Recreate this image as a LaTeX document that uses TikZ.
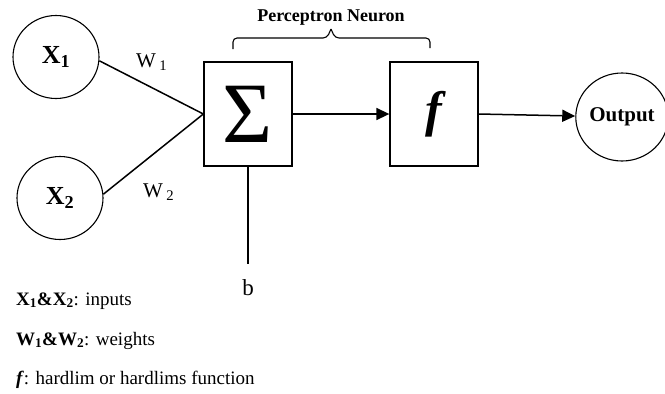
\documentclass[tikz,border=0pt]{standalone}
\usepackage{fontspec}
\setmainfont{Liberation Serif}
\usetikzlibrary{shapes.geometric,arrows.meta}

\begin{document}
\begin{tikzpicture}[x=1pt, y=-1pt, line width=1.5pt,
    inputnode/.style={ellipse, draw, line width=1.1pt, inner sep=0pt,
                      minimum width=86pt, minimum height=83pt},
    neuronbox/.style={rectangle, draw, line width=1.3pt, inner sep=0pt,
                      minimum width=88pt, minimum height=104pt},
    flow/.style={-{Triangle[length=13pt,width=12pt]}},
    wlabel/.style={anchor=base west, font=\fontsize{21}{23}\selectfont},
    legendtext/.style={anchor=base west, font=\fontsize{19}{22}\selectfont}]

  \useasboundingbox (0,0) rectangle (665,394);

  \node[inputnode] (x1) at (56,57)
    {\fontsize{26}{28}\selectfont\bfseries X\textsubscript{1}};
  \node[inputnode] (x2) at (60,198)
    {\fontsize{26}{28}\selectfont\bfseries X\textsubscript{2}};

  \node[neuronbox] (sum) at (248,114)
    {\fontsize{86}{86}\selectfont Σ};
  \node[neuronbox] (fn) at (434,114)
    {\fontsize{50}{50}\selectfont\bfseries\itshape f};
  \node[inputnode, minimum width=92pt, minimum height=88pt] (out) at (622,117)
    {\fontsize{21}{23}\selectfont\bfseries Output};

  \draw (x1.-5) -- (sum.west);
  \draw (x2.5) -- (sum.west);
  \node[wlabel] (w1) at (132,67) {W\,\textsubscript{1}};
  \node[wlabel] (w2) at (139,197) {W\,\textsubscript{2}};

  \draw[flow] (sum.east) -- (fn.west);
  \draw[flow] (fn.east) -- (out);

  \coordinate (bend) at (248,264);
  \draw (sum.south) -- (bend);
  \node[font=\fontsize{23}{25}\selectfont] (bias) at (248,288) {b};

  % brace over the two boxes
  \coordinate (bl) at (233,49);
  \coordinate (br) at (430,48);
  \draw[line width=1.1pt, rounded corners=4pt]
    (bl) -- (233,38) -- (327,38) -- (331,29);
  \draw[line width=1.1pt, rounded corners=4pt]
    (331,29) -- (335,38) -- (430,38) -- (br);
  \node[anchor=base, font=\fontsize{18}{20}\selectfont\bfseries] (title) at (331,21)
    {Perceptron Neuron};

  \node[legendtext] (leg1) at (12,305)
    {\textbf{X\textsubscript{1}\&X\textsubscript{2}}: inputs};
  \node[legendtext] (leg2) at (12,345)
    {\textbf{W\textsubscript{1}\&W\textsubscript{2}}: weights};
  \node[legendtext] (leg3) at (12,384)
    {\textbf{\textit{f}}: hardlim or hardlims function};
\end{tikzpicture}
\end{document}
